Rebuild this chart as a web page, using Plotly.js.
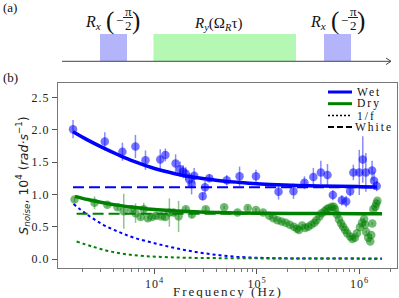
<!DOCTYPE html>
<html>
<head>
<meta charset="utf-8">
<script src="https://cdn.plot.ly/plotly-3.0.1.min.js"></script>
<style>
  html, body { margin:0; padding:0; background:#fff; }
  #chart { width:399px; height:298px; }
  .xtick text, .ytick text { letter-spacing: 1px; }
</style>
</head>
<body>
<div id="chart"></div>
<script>
// ---------- data ----------
// x positions are log10(frequency / Hz)
const wetLogF = [3.205,3.515,3.687,3.814,3.912,4.056,4.106,4.206,4.25,4.28,4.305,4.34,4.362,4.387,4.47,4.493,4.535,4.705,4.83,4.99,5.21,5.356,5.463,5.55,5.623,5.688,5.74,5.828,5.87,5.909,5.94,5.998,6.032,6.062,6.123,6.142,6.168];
const wetVal  = [2.01,1.82,1.66,1.74,1.53,1.54,1.61,1.48,1.39,1.35,1.32,1.23,1.16,1.29,0.97,1.11,1.25,1.22,1.28,1.28,1.04,1.05,1.18,1.27,1.34,1.30,0.99,0.91,0.89,1.05,1.34,1.34,1.54,1.34,1.37,1.21,1.13];
const wetErr  = [0.14,0.14,0.14,0.18,0.15,0.16,0.10,0.14,0.12,0.10,0.10,0.10,0.16,0.12,0.06,0.10,0.06,0.08,0.15,0.10,0.12,0.12,0.10,0.14,0.18,0.17,0.08,0.08,0.09,0.08,0.12,0.35,0.36,0.30,0.15,0.14,0.08];

const dryLogF = [3.22,3.415,3.54,3.64,3.70,3.775,3.815,3.865,3.895,3.935,3.975,4.015,4.065,4.105,4.145,4.185,4.235,4.305,4.365,4.50,4.68,4.81,4.91,4.99,5.06,
  5.12,5.16,5.20,5.24,5.28,5.32,5.36,5.39,5.41,5.44,5.47,5.50,5.53,5.56,5.58,5.61,5.63,5.66,5.68,5.70,5.73,5.75,5.76,5.78,5.80,5.82,5.84,5.86,5.88,5.91,5.93,5.955,5.975,6.005,6.025,6.045,6.055,6.065,6.085,6.105,6.115,6.125,6.135,6.155,6.165,6.175];
const dryVal  = [0.92,0.87,0.84,0.80,0.74,0.77,0.71,0.65,0.77,0.63,0.65,0.67,0.66,0.65,0.72,0.72,0.66,0.77,0.69,0.77,0.80,0.72,0.79,0.76,0.72,
  0.67,0.63,0.60,0.58,0.56,0.53,0.50,0.47,0.45,0.52,0.48,0.50,0.53,0.56,0.60,0.66,0.71,0.74,0.77,0.79,0.81,0.81,0.77,0.69,0.61,0.55,0.50,0.45,0.40,0.35,0.31,0.33,0.40,0.49,0.56,0.62,0.53,0.42,0.33,0.27,0.37,0.55,0.77,0.81,0.86,0.90];
const dryErr  = [0.04,0.10,0.03,0.04,0.27,0.04,0.15,0.04,0.10,0.04,0.04,0.05,0.04,0.05,0.22,0.05,0.24,0.04,0.05,0.04,0.03,0.03,0.03,0.03,0.03,
  0.02,0.02,0.02,0.02,0.02,0.02,0.02,0.02,0.02,0.02,0.02,0.02,0.02,0.02,0.02,0.02,0.02,0.02,0.02,0.02,0.02,0.02,0.02,0.02,0.02,0.02,0.02,0.02,0.02,0.02,0.02,0.02,0.02,0.02,0.02,0.02,0.02,0.02,0.02,0.02,0.02,0.02,0.02,0.02,0.02,0.02];

// fitted curves (at sample frequencies)
const wetFitLogF = [3.205,3.35,3.5,3.65,3.8,4.0,4.2,4.4,4.6,4.8,5.0,5.2,5.5,5.8,6.0,6.17];
const wetFitVal  = [1.97,1.84,1.72,1.61,1.51,1.40,1.32,1.26,1.22,1.19,1.165,1.15,1.135,1.125,1.12,1.115];
const dryFitLogF = [3.225,3.35,3.5,3.65,3.8,4.0,4.2,4.4,4.6,4.8,5.0,5.5,6.0,6.22];
const dryFitVal  = [0.97,0.92,0.87,0.83,0.80,0.765,0.745,0.73,0.72,0.712,0.708,0.704,0.702,0.702];

const wetOneFLogF = [3.21,3.35,3.5,3.65,3.8,4.0,4.2,4.4,4.6,4.8,5.0,5.2,5.5,6.0,6.22];
const wetOneFVal  = [0.85,0.68,0.53,0.42,0.33,0.245,0.17,0.11,0.065,0.035,0.02,0.012,0.008,0.006,0.005];
const dryOneFLogF = [3.24,3.4,3.56,3.72,3.9,4.1,4.3,4.6,5.0,5.5,6.0,6.22];
const dryOneFVal  = [0.27,0.19,0.12,0.075,0.045,0.03,0.02,0.014,0.01,0.008,0.007,0.007];

const wetWhiteLogF = [3.205, 6.17];
const wetWhiteVal  = [1.11, 1.11];
const dryWhiteLogF = [3.24, 6.22];
const dryWhiteVal  = [0.70, 0.70];

const legendLabels = ['Wet', 'Dry', '1/f', 'White'];
const xTickVals = [1e4, 1e5, 1e6];
const xTickText = ['10<sup>4</sup>', '10<sup>5</sup>', '10<sup>6</sup>'];
const yTickVals = [0, 0.5, 1.0, 1.5, 2.0, 2.5];
const yTickText = ['0.0', '0.5', '1.0', '1.5', '2.0', '2.5'];
const xTitle = 'Frequency (Hz)';
const yTitle = '<i>S</i><sub><i>noise</i></sub>, 10<sup>4</sup> (<i>rad·s</i><sup>−1</sup>)';

// ---------- styling ----------
const BLUE = '#0000ff', GREEN = '#008000';
const toHz = a => a.map(e => Math.pow(10, e));
const M = {l:58, r:2, t:83, b:30};
const PW = 399 - M.l - M.r, PH = 298 - M.t - M.b;
const px = x => (x - M.l) / PW;
const py = y => (298 - M.b - y) / PH;

const traces = [
  {x: toHz(wetLogF), y: wetVal, type:'scatter', mode:'markers', showlegend:false,
   marker:{color:BLUE, size:8.5, opacity:0.55},
   error_y:{type:'data', array:wetErr, visible:true, color:'rgba(60,60,255,0.6)', thickness:1.5, width:0}},
  {x: toHz(dryLogF), y: dryVal, type:'scatter', mode:'markers', showlegend:false,
   marker:{color:GREEN, size:8.5, opacity:0.55},
   error_y:{type:'data', array:dryErr, visible:true, color:'rgba(0,128,0,0.45)', thickness:1.5, width:0}},
  {x: toHz(wetOneFLogF), y: wetOneFVal, type:'scatter', mode:'lines', showlegend:false,
   line:{color:BLUE, width:2, dash:'3px,3px', shape:'spline'}},
  {x: toHz(dryOneFLogF), y: dryOneFVal, type:'scatter', mode:'lines', showlegend:false,
   line:{color:GREEN, width:2, dash:'3px,3px', shape:'spline'}},
  {x: toHz(wetWhiteLogF), y: wetWhiteVal, type:'scatter', mode:'lines', showlegend:false,
   line:{color:BLUE, width:2, dash:'11px,5px'}},
  {x: toHz(dryWhiteLogF), y: dryWhiteVal, type:'scatter', mode:'lines', showlegend:false,
   line:{color:GREEN, width:2, dash:'11px,5px'}},
  {x: toHz(wetFitLogF), y: wetFitVal, type:'scatter', mode:'lines', showlegend:false,
   line:{color:BLUE, width:3.5, shape:'spline'}},
  {x: toHz(dryFitLogF), y: dryFitVal, type:'scatter', mode:'lines', showlegend:false,
   line:{color:GREEN, width:3.5, shape:'spline'}}
];

// minor tick positions (axis decoration)
const minorVals = [];
for (let d = 1e3; d <= 1e6; d *= 10) for (let k = 2; k <= 9; k++) minorVals.push(k * d);

const serif = 'Liberation Serif, Times New Roman, serif';
const shapes = [
  {type:'rect', xref:'paper', yref:'paper', x0:px(100), x1:px(127), y0:py(61), y1:py(34), fillcolor:'#b4b4fa', line:{width:0}},
  {type:'rect', xref:'paper', yref:'paper', x0:px(153.5), x1:px(296), y0:py(61), y1:py(34), fillcolor:'#b4f8b4', line:{width:0}},
  {type:'rect', xref:'paper', yref:'paper', x0:px(324), x1:px(351), y0:py(61), y1:py(34), fillcolor:'#b4b4fa', line:{width:0}},
  {type:'line', xref:'paper', yref:'paper', x0:px(62), x1:px(391), y0:py(61.3), y1:py(61.3), line:{color:'#444', width:1}},
  {type:'path', xref:'paper', yref:'paper', path:`M ${px(386)},${py(58)} L ${px(391)},${py(61.3)} L ${px(386)},${py(64.6)}`, line:{color:'#444', width:1}},
  {type:'line', xref:'paper', yref:'paper', x0:px(123), x1:px(133), y0:py(17.5), y1:py(17.5), line:{color:'#222', width:1}},
  {type:'line', xref:'paper', yref:'paper', x0:px(348), x1:px(358), y0:py(17.5), y1:py(17.5), line:{color:'#222', width:1}},
  // legend samples
  {type:'line', xref:'paper', yref:'paper', x0:px(328), x1:px(352), y0:py(92), y1:py(92), line:{color:BLUE, width:3}},
  {type:'line', xref:'paper', yref:'paper', x0:px(328), x1:px(352), y0:py(103.7), y1:py(103.7), line:{color:GREEN, width:3}},
  {type:'line', xref:'paper', yref:'paper', x0:px(328), x1:px(350), y0:py(115.5), y1:py(115.5), line:{color:'#000', width:1.5, dash:'2px,2px'}},
  {type:'line', xref:'paper', yref:'paper', x0:px(328), x1:px(353), y0:py(127), y1:py(127), line:{color:'#000', width:2, dash:'6px,3px'}}
];

function ann(text, cx, cy, size, xanchor, extra) {
  return Object.assign({text, xref:'paper', yref:'paper', x:px(cx), y:py(cy), xanchor:xanchor||'center', yanchor:'middle',
    showarrow:false, font:{family:serif, size:size, color:'#111'}}, extra||{});
}
const annotations = [
  ann('(a)', 1, 7, 13, 'left'),
  ann('(b)', 1, 77, 13, 'left'),
  ann('<i>R</i><sub><i>y</i></sub>(Ω<sub><i>R</i></sub>τ)', 218, 24, 15),
  ann(xTitle, 227.5, 291.5, 13, 'center', {font:{family:serif, size:13, color:'#222'}, borderpad:0})
];
[0, 225].forEach(o => {
  annotations.push(ann('<i>R</i><sub><i>x</i></sub>', 103 + o, 22, 16, 'right'));
  annotations.push(ann('(', 109.5 + o, 21, 25));
  annotations.push(ann('−', 119 + o, 20.5, 13));
  annotations.push(ann('π', 128 + o, 11, 13));
  annotations.push(ann('2', 128 + o, 25, 13));
  annotations.push(ann(')', 136 + o, 21, 25));
});
const legendY = [92, 103.7, 115.5, 127];
legendLabels.forEach((t, i) => annotations.push(ann(t, 358, legendY[i], 11.5, 'left')));

const layout = {
  width:399, height:298,
  margin:M,
  paper_bgcolor:'#fff', plot_bgcolor:'#fff',
  showlegend:false,
  font:{family:serif, color:'#222', size:11},
  xaxis:{type:'log', range:[3.0585, 6.366], tickmode:'array', tickvals:xTickVals, ticktext:xTickText,
    ticks:'outside', ticklen:5, tickcolor:'#555', showgrid:false, zeroline:false,
    showline:true, mirror:true, linecolor:'#777', linewidth:1,
    tickfont:{family:serif, size:12, color:'#222'},
    minor:{tickmode:'array', tickvals:minorVals, ticks:'outside', ticklen:3, tickcolor:'#777', showgrid:false},
    automargin:false},
  yaxis:{range:[-0.139, 2.724], tickmode:'array', tickvals:yTickVals, ticktext:yTickText,
    ticks:'outside', ticklen:5, tickcolor:'#555', showgrid:false, zeroline:false,
    showline:true, mirror:true, linecolor:'#777', linewidth:1,
    tickfont:{family:serif, size:12, color:'#222'},
    title:{text:yTitle, font:{family:'DejaVu Sans, sans-serif', size:12.5, color:'#222'}, standoff:4},
    automargin:false},
  shapes, annotations
};

Plotly.newPlot('chart', traces, layout, {staticPlot:true, displayModeBar:false}).then(() => {
  document.querySelectorAll('.annotation-text').forEach(el => {
    if (legendLabels.includes(el.textContent)) el.style.letterSpacing = '2px';
    if (el.textContent === xTitle) el.style.letterSpacing = '2px';
  });
  const yt = document.querySelector('.ytitle');
  if (yt) yt.setAttribute('transform', 'translate(4,0) ' + (yt.getAttribute('transform') || ''));
});
</script>
</body>
</html>
